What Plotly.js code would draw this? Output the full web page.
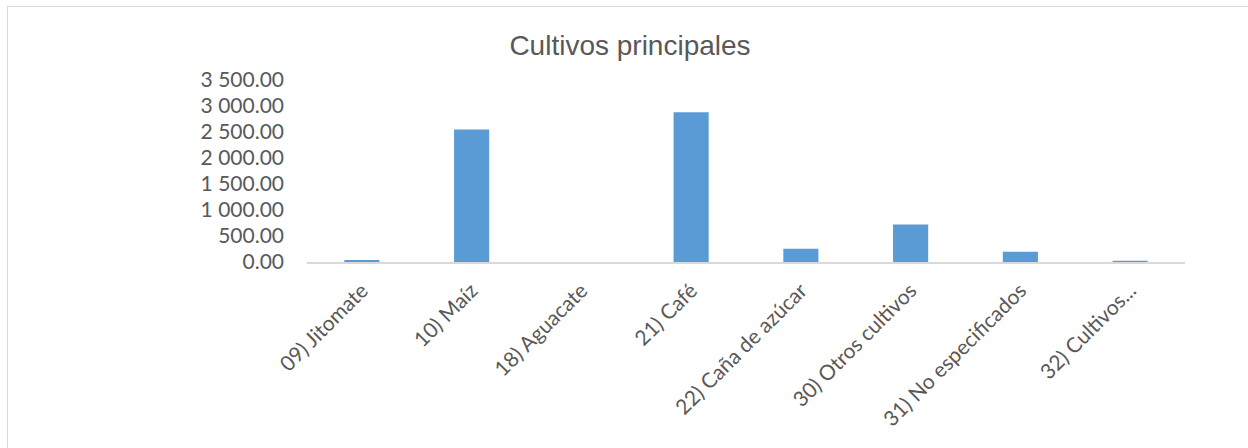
<!DOCTYPE html>
<html>
<head>
<meta charset="utf-8">
<script src="https://cdn.plot.ly/plotly-3.0.1.min.js"></script>
<style>
html,body{margin:0;padding:0;background:#fff;}
#chart{width:1248px;height:448px;}
</style>
</head>
<body>
<div id="chart"></div>
<script>
const categories = ["09) Jitomate", "10) Maíz", "18) Aguacate", "21) Café", "22) Caña de azúcar", "30) Otros cultivos", "31) No especificados", "32) Cultivos..."];
const values = [40, 2550, 0, 2880, 255, 720, 197, 25];
const yTicks = [0, 500, 1000, 1500, 2000, 2500, 3000, 3500];
const yTickLabels = ["0.00", "500.00", "1 000.00", "1 500.00", "2 000.00", "2 500.00", "3 000.00", "3 500.00"];

const L = 307, R = 63, T = 80, B = 186;
const W = 1248 - L - R, H = 448 - T - B;
const fx = px => (px - L) / W;
const fy = py => (448 - B - py) / H;

const trace = {
  type: "bar",
  x: categories,
  y: values,
  marker: {color: "#5b9bd5", line: {width: 0}},
  hoverinfo: "x+y"
};

const layout = {
  width: 1248, height: 448,
  margin: {l: L, r: R, t: T, b: B, pad: 0},
  paper_bgcolor: "#fff", plot_bgcolor: "#fff",
  bargap: 0.68,
  showlegend: false,
  title: {text: "Cultivos principales", x: 630/1248, xanchor: "center", y: 1 - 45/448, yanchor: "middle",
          font: {family: "Liberation Sans, Arial, sans-serif", size: 28, color: "#595959"}},
  xaxis: {
    type: "category",
    tickangle: -45,
    showgrid: false, zeroline: false,
    showline: true, linecolor: "#d9d9d9", linewidth: 2,
    ticks: "", ticklen: 0, ticklabelstandoff: 6,
    tickfont: {family: "Lato, Open Sans, sans-serif", size: 21, color: "#595959"},
    automargin: false
  },
  yaxis: {
    range: [0, 3500],
    tickvals: yTicks, ticktext: yTickLabels,
    showgrid: false, zeroline: false, showline: false,
    ticks: "", ticklabelstandoff: 22,
    tickfont: {family: "Lato, Open Sans, sans-serif", size: 21, color: "#595959"},
    automargin: false
  },
  shapes: [
    {type: "line", xref: "paper", yref: "paper", x0: fx(7), x1: fx(1260), y0: fy(6.5), y1: fy(6.5), line: {color: "#d9d9d9", width: 1}},
    {type: "line", xref: "paper", yref: "paper", x0: fx(7.5), x1: fx(7.5), y0: fy(6), y1: fy(460), line: {color: "#d9d9d9", width: 1}}
  ]
};

Plotly.newPlot("chart", [trace], layout, {displayModeBar: false, staticPlot: true});
</script>
</body>
</html>
